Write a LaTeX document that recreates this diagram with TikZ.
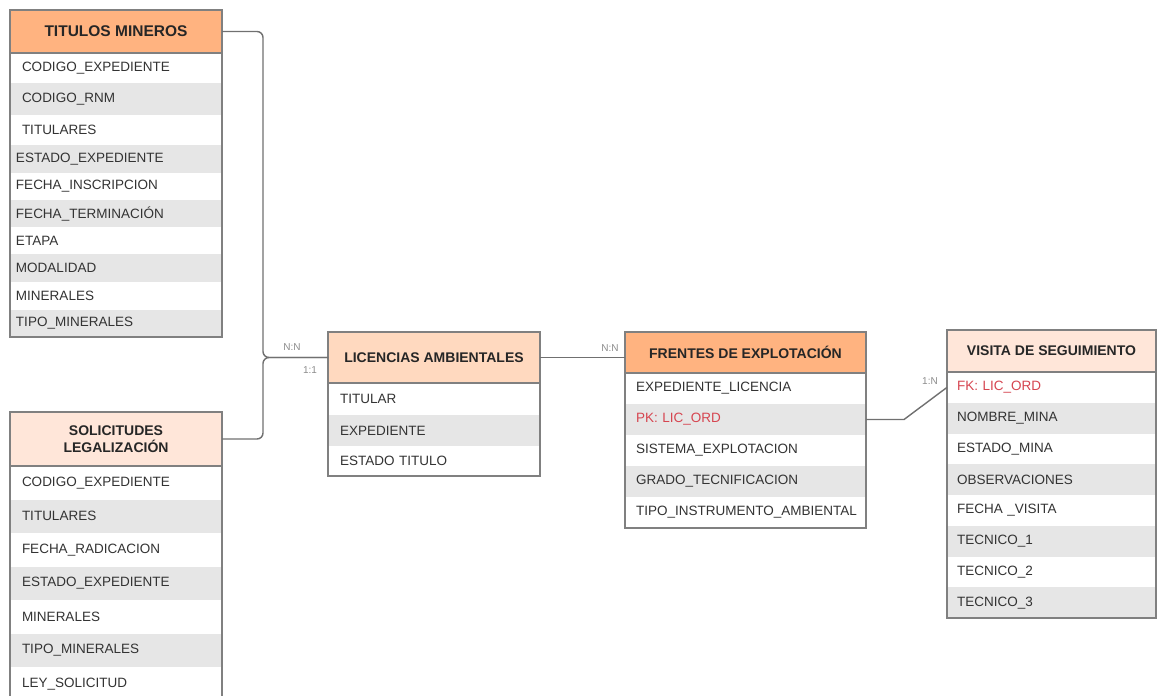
\documentclass[tikz,border=0pt]{standalone}
\usepackage{fontspec}
\setmainfont{Liberation Sans}
\usetikzlibrary{positioning}

\definecolor{hdrdark}{HTML}{FFB380}
\definecolor{hdrmid}{HTML}{FFD9BF}
\definecolor{hdrpale}{HTML}{FFE6D9}
\definecolor{rowgray}{HTML}{E6E6E6}
\definecolor{frameclr}{HTML}{808080}
\definecolor{txt}{HTML}{333333}
\definecolor{pkred}{HTML}{D64550}
\definecolor{linkclr}{HTML}{707070}
\definecolor{cardclr}{HTML}{8C8C8C}

\begin{document}
\begin{tikzpicture}[x=1pt, y=-1pt,
    header/.style={draw=frameclr, line width=1.2pt, anchor=north west, inner sep=0pt, outer sep=0pt,
        align=center, text=black!85, font=\bfseries\fontsize{14}{17}\selectfont},
    field/.style={anchor=north west, inner ysep=0pt, outer sep=0pt, align=left, text=txt,
        font=\fontsize{13.5}{16}\selectfont},
    frame/.style={draw=frameclr, line width=1.2pt},
    link/.style={draw=linkclr, line width=1.4pt, rounded corners=6pt},
    card/.style={text=cardclr, font=\fontsize{10}{12}\selectfont, inner sep=1pt}]

    \useasboundingbox (0,0) rectangle (1157,696);
    \clip (0,0) rectangle (1157,696);

    % Titulos mineros
    \node[header, fill=hdrdark, minimum width=212, minimum height=43,
          font=\bfseries\fontsize{15.5}{18}\selectfont] (tmh) at (10,10) {TITULOS MINEROS};
    \foreach \t/\c/\h/\ix [count=\i, remember=\i as \p (initially h),
                           evaluate=\ix as \tw using 212-2*\ix] in
        {CODIGO\_EXPEDIENTE/white/30/12, CODIGO\_RNM/rowgray/32/12, TITULARES/white/30/12,
         ESTADO\_EXPEDIENTE/rowgray/28/6, FECHA\_INSCRIPCION/white/27/6,
         FECHA\_TERMINACIÓN/rowgray/27/6, ETAPA/white/27/6, MODALIDAD/rowgray/28/6,
         MINERALES/white/28/6, TIPO\_MINERALES/rowgray/27/6}
        \node[field, fill=\c, minimum height=\h, inner xsep=\ix, text width=\tw pt] (tm\i) at (tm\p.south west) {\t};
    \draw[frame] (tmh.north west) rectangle (tm10.south east) (tmh.south west) -- (tmh.south east);

    % Solicitudes legalizacion
    \node[header, fill=hdrpale, minimum width=212, minimum height=54] (slh) at (10,412) {SOLICITUDES\\LEGALIZACIÓN};
    \foreach \t/\c [count=\i, remember=\i as \p (initially h)] in
        {CODIGO\_EXPEDIENTE/white, TITULARES/rowgray, FECHA\_RADICACION/white,
         ESTADO\_EXPEDIENTE/rowgray, MINERALES/white, TIPO\_MINERALES/rowgray, LEY\_SOLICITUD/white}
        \node[field, fill=\c, minimum height=33.5, inner xsep=12, text width=188pt] (sl\i) at (sl\p.south west) {\t};
    \draw[frame] (slh.north west) rectangle (sl7.south east) (slh.south west) -- (slh.south east);

    % Licencias ambientales
    \node[header, fill=hdrmid, minimum width=212, minimum height=51] (lah) at (328,332) {LICENCIAS AMBIENTALES};
    \foreach \t/\c/\h [count=\i, remember=\i as \p (initially h)] in
        {TITULAR/white/32, EXPEDIENTE/rowgray/31, ESTADO TITULO/white/30}
        \node[field, fill=\c, minimum height=\h, inner xsep=12, text width=188pt] (la\i) at (la\p.south west) {\t};
    \draw[frame] (lah.north west) rectangle (la3.south east) (lah.south west) -- (lah.south east);

    % Frentes de explotacion
    \node[header, fill=hdrdark, minimum width=241, minimum height=41] (frh) at (625,332) {FRENTES DE EXPLOTACIÓN};
    \foreach \t/\c/\tc [count=\i, remember=\i as \p (initially h)] in
        {EXPEDIENTE\_LICENCIA/white/txt, PK: LIC\_ORD/rowgray/pkred, SISTEMA\_EXPLOTACION/white/txt,
         GRADO\_TECNIFICACION/rowgray/txt, TIPO\_INSTRUMENTO\_AMBIENTAL/white/txt}
        \node[field, fill=\c, text=\tc, minimum height=31, inner xsep=11, text width=219pt] (fr\i) at (fr\p.south west) {\t};
    \draw[frame] (frh.north west) rectangle (fr5.south east) (frh.south west) -- (frh.south east);

    % Visita de seguimiento
    \node[header, fill=hdrpale, minimum width=209, minimum height=42] (vsh) at (947,330) {VISITA DE SEGUIMIENTO};
    \foreach \t/\c/\tc [count=\i, remember=\i as \p (initially h)] in
        {FK: LIC\_ORD/white/pkred, NOMBRE\_MINA/rowgray/txt, ESTADO\_MINA/white/txt,
         OBSERVACIONES/rowgray/txt, FECHA \_VISITA/white/txt, TECNICO\_1/rowgray/txt,
         TECNICO\_2/white/txt, TECNICO\_3/rowgray/txt}
        \node[field, fill=\c, text=\tc, minimum height=30.75, inner xsep=10, text width=189pt] (vs\i) at (vs\p.south west) {\t};
    \draw[frame] (vsh.north west) rectangle (vs8.south east) (vsh.south west) -- (vsh.south east);

    % Relations
    \draw[link] (tmh.east) -| ([xshift=-65pt]lah.west) -- (lah.west);
    \draw[link] (slh.east) -| ([xshift=-65pt]lah.west) -- (lah.west);
    \draw[link] (lah.east) -- (lah.east -| frh.west);
    \draw[link, sharp corners] (fr2.east) -- ++(38,0) -- (vs1.west);

    % Cardinalities
    \node[card] (cardtm) at (292,347) {N:N};
    \node[card] (cardsl) at (310,370) {1:1};
    \node[card] (cardfr) at (610,348) {N:N};
    \node[card] (cardvs) at (930,381) {1:N};
\end{tikzpicture}
\end{document}
